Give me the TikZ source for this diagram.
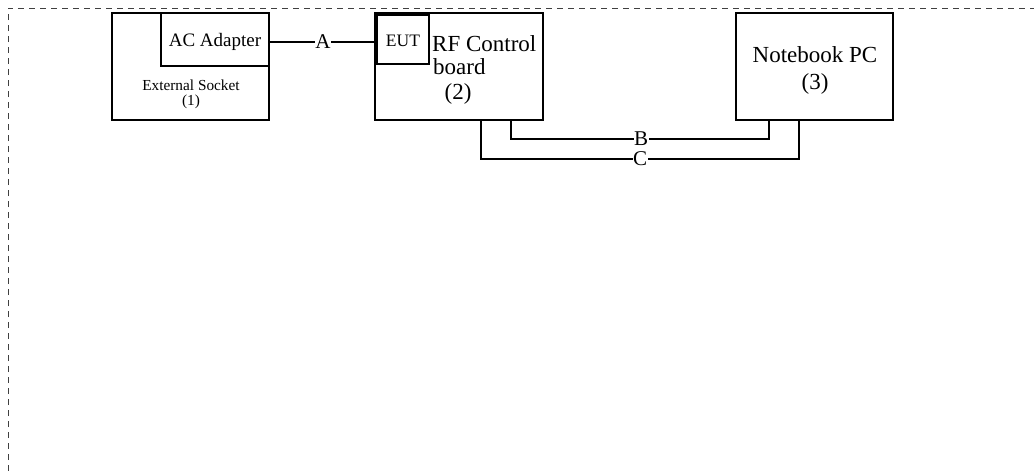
\documentclass[tikz,border=0pt]{standalone}
\usepackage{fontspec}
\setmainfont{Liberation Serif}
\begin{document}
\begin{tikzpicture}[x=1pt,y=-1pt,
  box/.style={draw,line width=1.6pt,inner sep=0pt,outer sep=0pt},
  wire/.style={draw,line width=1.1pt},
  frame/.style={draw,line width=0.9pt,dash pattern=on 6pt off 5pt,black!75},
  lbl/.style={fill=white,inner sep=0.5pt,font=\fontsize{21}{21}\selectfont},
  txt/.style={inner sep=0pt}]
\useasboundingbox (0,0) rectangle (1034,471);
\coordinate (ftl) at (8,8);
\coordinate (ftr) at (1034,8);
\coordinate (fbl) at (8,471);
\draw[frame] (fbl) -- (ftl) -- (ftr);
% boxes
\node[box,minimum width=157pt,minimum height=107pt,anchor=north west] (sock) at (112,13) {};
\node[txt,font=\fontsize{15.3}{15.3}\selectfont] (ext) at (191,85) {External Socket};
\node[txt,font=\fontsize{15.3}{15.3}\selectfont] (ext1) at (191,102) {(1)};
\node[box,minimum width=108pt,minimum height=53pt,anchor=north west] (adp) at (161,13) {};
\node[txt,font=\fontsize{19}{19}\selectfont] (adpt) at (215,42) {AC Adapter};
\node[box,minimum width=168pt,minimum height=107pt,anchor=north west] (rf) at (375,13) {};
\node[box,minimum width=52pt,minimum height=49pt,anchor=north west] (eut) at (377,15) {};
\node[txt,font=\fontsize{17.5}{17.5}\selectfont] (eutt) at (403,41) {EUT};
\node[txt,font=\fontsize{23}{23}\selectfont,anchor=west] (rft1) at (432,44) {RF Control};
\node[txt,font=\fontsize{23}{23}\selectfont,anchor=west] (rft2) at (433,67) {board};
\node[txt,font=\fontsize{23}{23}\selectfont] (rft3) at (458,94) {(2)};
\node[box,minimum width=157pt,minimum height=107pt,anchor=north west] (nb) at (736,13) {};
\node[txt,font=\fontsize{23}{23}\selectfont] (nbt1) at (815,55) {Notebook PC};
\node[txt,font=\fontsize{23}{23}\selectfont] (nbt2) at (815,84) {(3)};
% connectors
\draw[wire] (adp.east |- 0,42) -- (eut.west |- 0,42) node[lbl,midway] (la) {A};
\coordinate (b1) at (511,120);
\coordinate (b2) at (769,120);
\coordinate (c1) at (481,120);
\coordinate (c2) at (799,120);
\draw[wire] (b1) -- (511,139) -- (769,139) -- (b2);
\node[lbl] (lb) at (641,139) {B};
\draw[wire] (c1) -- (481,159) -- (799,159) -- (c2);
\node[lbl] (lc) at (640,159) {C};
\end{tikzpicture}
\end{document}
